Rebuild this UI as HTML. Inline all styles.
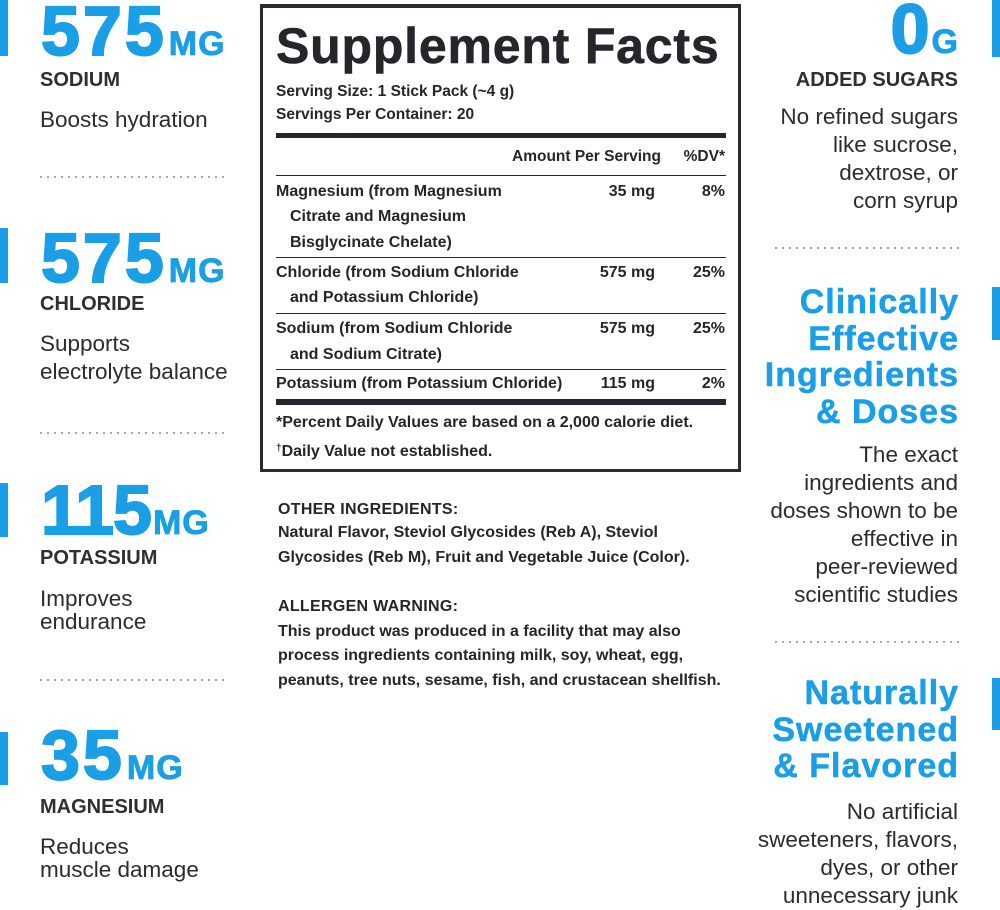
<!DOCTYPE html>
<html><head><meta charset="utf-8">
<style>
*{margin:0;padding:0;box-sizing:border-box}
html,body{width:1000px;height:910px;background:#fff;overflow:hidden}
body{position:relative;font-family:"Liberation Sans",Arial,sans-serif;color:#2b2c31}
.a{position:absolute;white-space:nowrap}
.bar{position:absolute;width:8px;background:#1a9ee6}
.num{font-size:70px;line-height:70px;font-weight:bold;color:#1a9ee6;letter-spacing:3px;-webkit-text-stroke:2px #1a9ee6}
.num span{font-size:34px;line-height:1;letter-spacing:1px;-webkit-text-stroke:0.8px #1a9ee6;margin-left:2px}
.lab{font-size:20px;line-height:20px;font-weight:bold;color:#2e2f35}
.body{font-size:22.5px;line-height:22.5px;color:#2b2c31}
.l{left:40px}
.r{right:42px;text-align:right}
.dots{position:absolute;height:2px;background:repeating-linear-gradient(to right,#a8a8a8 0 2px,transparent 2px 7px)}
.hd{font-size:34px;line-height:34px;font-weight:bold;color:#1a9ee6;letter-spacing:1px;margin-right:-1px;-webkit-text-stroke:0.5px #1a9ee6}
.box{position:absolute;left:260px;top:4px;width:481px;height:468px;border:3px solid #2a2b30;border-top-width:4px}
.t{font-size:16px;line-height:16px;font-weight:bold;color:#25262b}
.s{font-size:15.5px;line-height:15.5px;font-weight:bold;color:#25262b}
.rule{position:absolute;left:276px;width:450px;background:#25262b}
</style></head><body>

<!-- Left column -->
<div class="bar" style="left:0;top:0;height:56px"></div>
<div class="a num l" style="top:-4px;left:41px">575<span>MG</span></div>
<div class="a lab l" style="top:70px">SODIUM</div>
<div class="a body l" style="top:109px">Boosts hydration</div>
<div class="dots" style="left:40px;width:186px;top:176px"></div>

<div class="bar" style="left:0;top:228px;height:55px"></div>
<div class="a num l" style="top:223px;left:41px">575<span>MG</span></div>
<div class="a lab l" style="top:294px">CHLORIDE</div>
<div class="a body l" style="top:333px">Supports</div>
<div class="a body l" style="top:361px">electrolyte balance</div>
<div class="dots" style="left:40px;width:186px;top:432px"></div>

<div class="bar" style="left:0;top:483px;height:54px"></div>
<div class="a num l" style="top:475px;left:41px;letter-spacing:-1px">115<span>MG</span></div>
<div class="a lab l" style="top:548px">POTASSIUM</div>
<div class="a body l" style="top:588px">Improves</div>
<div class="a body l" style="top:611px">endurance</div>
<div class="dots" style="left:40px;width:186px;top:679px"></div>

<div class="bar" style="left:0;top:732px;height:53px"></div>
<div class="a num l" style="top:720px;left:41px">35<span>MG</span></div>
<div class="a lab l" style="top:797px">MAGNESIUM</div>
<div class="a body l" style="top:836px">Reduces</div>
<div class="a body l" style="top:859px">muscle damage</div>

<!-- Center box -->
<div class="box"></div>
<div class="a" style="left:276px;top:21px;font-size:50px;line-height:50px;font-weight:bold;letter-spacing:0.8px;color:#25262b;-webkit-text-stroke:0.6px #25262b">Supplement Facts</div>
<div class="a s" style="left:276px;top:84px">Serving Size: 1 Stick Pack (~4 g)</div>
<div class="a s" style="left:276px;top:107px">Servings Per Container: 20</div>
<div class="rule" style="top:133px;height:5px"></div>
<div class="a s" style="right:339px;top:149px">Amount Per Serving</div>
<div class="a s" style="right:275px;top:149px">%DV*</div>
<div class="rule" style="top:175px;height:1px"></div>

<div class="a t" style="left:276px;top:183.5px">Magnesium (from Magnesium</div>
<div class="a t" style="left:290px;top:209px">Citrate and Magnesium</div>
<div class="a t" style="left:290px;top:234.5px">Bisglycinate Chelate)</div>
<div class="a t" style="right:345px;top:183.5px">35 mg</div>
<div class="a t" style="right:275px;top:183.5px">8%</div>
<div class="rule" style="top:257px;height:1px"></div>

<div class="a t" style="left:276px;top:264.5px">Chloride (from Sodium Chloride</div>
<div class="a t" style="left:290px;top:289.5px">and Potassium Chloride)</div>
<div class="a t" style="right:345px;top:264.5px">575 mg</div>
<div class="a t" style="right:275px;top:264.5px">25%</div>
<div class="rule" style="top:313px;height:1px"></div>

<div class="a t" style="left:276px;top:320.5px">Sodium (from Sodium Chloride</div>
<div class="a t" style="left:290px;top:346.5px">and Sodium Citrate)</div>
<div class="a t" style="right:345px;top:320.5px">575 mg</div>
<div class="a t" style="right:275px;top:320.5px">25%</div>
<div class="rule" style="top:369px;height:1px"></div>

<div class="a t" style="left:276px;top:375.5px">Potassium (from Potassium Chloride)</div>
<div class="a t" style="right:345px;top:375.5px">115 mg</div>
<div class="a t" style="right:275px;top:375.5px">2%</div>
<div class="rule" style="top:399px;height:6px"></div>

<div class="a t" style="left:276px;top:414.5px">*Percent Daily Values are based on a 2,000 calorie diet.</div>
<div class="a t" style="left:276px;top:440.5px"><span style="font-size:10px;vertical-align:5px">†</span>Daily Value not established.</div>

<!-- Other ingredients -->
<div class="a t" style="left:278px;top:501.5px;letter-spacing:0.3px">OTHER INGREDIENTS:</div>
<div class="a t" style="left:278px;top:524.5px">Natural Flavor, Steviol Glycosides (Reb A), Steviol</div>
<div class="a t" style="left:278px;top:549.5px">Glycosides (Reb M), Fruit and Vegetable Juice (Color).</div>
<div class="a t" style="left:278px;top:598.5px;letter-spacing:0.3px">ALLERGEN WARNING:</div>
<div class="a t" style="left:278px;top:623.5px">This product was produced in a facility that may also</div>
<div class="a t" style="left:278px;top:647.5px">process ingredients containing milk, soy, wheat, egg,</div>
<div class="a t" style="left:278px;top:672.5px">peanuts, tree nuts, sesame, fish, and crustacean shellfish.</div>

<!-- Right column -->
<div class="bar" style="left:992px;top:0;height:57px"></div>
<div class="a num r" style="top:-6px;letter-spacing:0">0<span style="letter-spacing:0">G</span></div>
<div class="a lab r" style="top:70px">ADDED SUGARS</div>
<div class="a body r" style="top:106px">No refined sugars</div>
<div class="a body r" style="top:134px">like sucrose,</div>
<div class="a body r" style="top:162px">dextrose, or</div>
<div class="a body r" style="top:190px">corn syrup</div>
<div class="dots" style="left:775px;width:184px;top:247px"></div>

<div class="bar" style="left:992px;top:287px;height:53px"></div>
<div class="a hd r" style="top:285px">Clinically</div>
<div class="a hd r" style="top:321.5px">Effective</div>
<div class="a hd r" style="top:358px">Ingredients</div>
<div class="a hd r" style="top:394.5px">&amp; Doses</div>
<div class="a body r" style="top:444px">The exact</div>
<div class="a body r" style="top:472px">ingredients and</div>
<div class="a body r" style="top:500px">doses shown to be</div>
<div class="a body r" style="top:528px">effective in</div>
<div class="a body r" style="top:556px">peer-reviewed</div>
<div class="a body r" style="top:584px">scientific studies</div>
<div class="dots" style="left:775px;width:184px;top:641px"></div>

<div class="bar" style="left:992px;top:678px;height:52px"></div>
<div class="a hd r" style="top:676px">Naturally</div>
<div class="a hd r" style="top:712.5px">Sweetened</div>
<div class="a hd r" style="top:749px">&amp; Flavored</div>
<div class="a body r" style="top:801px">No artificial</div>
<div class="a body r" style="top:829px">sweeteners, flavors,</div>
<div class="a body r" style="top:857px">dyes, or other</div>
<div class="a body r" style="top:885px">unnecessary junk</div>

</body></html>
